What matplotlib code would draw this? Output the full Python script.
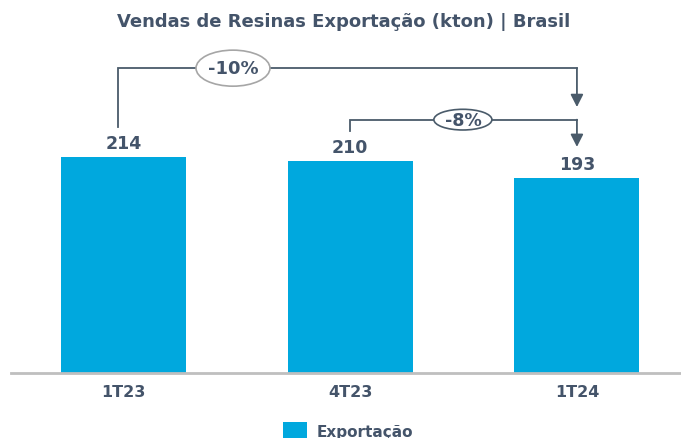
import matplotlib
matplotlib.use("Agg")
import matplotlib.pyplot as plt
from matplotlib.patches import Ellipse

categories = ["1T23", "4T23", "1T24"]
values = [214, 210, 193]
series_name = "Exportação"
title = "Vendas de Resinas Exportação (kton) | Brasil"
changes = [
    # (from index, to index, label)
    (0, 2, "-10%"),
    (1, 2, "-8%"),
]

BAR = "#00A8DE"
TXT = "#44546A"
LINE = "#4A5B6A"

fig = plt.figure(figsize=(6.81, 4.39), dpi=100)
ax = fig.add_axes([11 / 681, 65 / 439, 670 / 681, 344 / 439])
x = list(range(len(categories)))
bars = ax.bar(x, values, width=0.551, color=BAR, label=series_name, zorder=2)
ax.set_xlim(-0.496, 2.459)
ax.set_ylim(0, 340.8)

for xi, v in zip(x, values):
    ax.text(xi, v + 5, f"{v}", ha="center", va="bottom", fontsize=12.5,
            fontweight="bold", color=TXT)

ax.set_xticks(x)
ax.set_xticklabels(categories, fontsize=11.5, fontweight="bold", color=TXT)
ax.tick_params(axis="x", length=0, pad=8)
ax.set_yticks([])
for s in ["top", "right", "left"]:
    ax.spines[s].set_visible(False)
ax.spines["bottom"].set_color("#BFBFBF")
ax.spines["bottom"].set_linewidth(2)

# change brackets
bracket_cfg = [
    # (x offset of start, top level, arrow tip level, label x, ellipse w, h, edge, fontsize)
    (-0.024, 302, 263.5, 0.483, 0.326, 35.7, "#A6A6A6", 13),
    (0.0, 251, 224, 1.497, 0.256, 20.5, LINE, 12.5),
]
for (i0, i1, lab), (dx, top, tip, lx, ew, eh, ec, fs) in zip(changes, bracket_cfg):
    x0 = x[i0] + dx
    x1 = x[i1]
    start = values[i0] + 29.5
    ax.plot([x0, x0, x1], [start, top, top], color=LINE, lw=1.3, zorder=3,
            solid_joinstyle="miter")
    ax.annotate("", xy=(x1, tip), xytext=(x1, top),
                arrowprops=dict(arrowstyle="-|>,head_length=0.75,head_width=0.38",
                                color=LINE, lw=1.3, shrinkA=0, shrinkB=0),
                zorder=3)
    ax.add_patch(Ellipse((lx, top), ew, eh, facecolor="white", edgecolor=ec,
                         lw=1.2, zorder=4))
    ax.text(lx, top, lab, ha="center", va="center", fontsize=fs,
            fontweight="bold", color=TXT, zorder=5)

fig.text(0.505, 1 - 22 / 439, title, ha="center", va="center", fontsize=13,
         fontweight="bold", color=TXT)

fig.legend(handles=[bars], labels=[series_name], loc="upper left",
           bbox_to_anchor=(283 / 681, 1 - 423 / 439), frameon=False,
           handlelength=1.6, handleheight=1.5, handletextpad=0.6,
           borderpad=0, borderaxespad=0, labelcolor=TXT,
           prop={"weight": "bold", "size": 11})

fig.savefig("out.png", dpi=100)
